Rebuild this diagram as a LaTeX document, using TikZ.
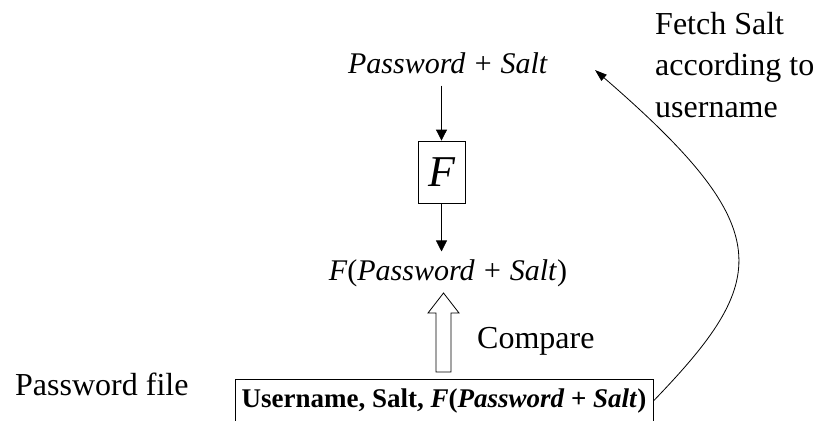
\documentclass[tikz,border=0pt]{standalone}
\usepackage{fontspec}
\setmainfont{Liberation Serif}
\usepackage{tikz}
\usetikzlibrary{arrows.meta,positioning,calc}

\begin{document}
\begin{tikzpicture}[
    x=1pt, y=-1pt,
    txt/.style={font=\fontsize{30}{41.5}\selectfont, inner sep=0pt},
    lbl/.style={font=\fontsize{32}{41.5}\selectfont, inner sep=0pt},
    hashbox/.style={draw, line width=0.8pt, minimum width=47pt, minimum height=62pt, inner sep=0pt, font=\fontsize{44}{50}\selectfont\itshape},
    filebox/.style={draw, line width=0.8pt, minimum width=418pt, text height=18pt, text depth=6pt, inner xsep=0pt, inner ysep=10pt, font=\fontsize{27}{30}\selectfont\bfseries},
    flow/.style={-{Triangle[width=11pt,length=11pt]}, line width=0.8pt},
    fetch/.style={-{Triangle[width=8pt,length=12pt]}, line width=0.8pt}
]
    \useasboundingbox (0,0) rectangle (818,420);

    % Hash chain
    \node[txt, anchor=base] (pwd) at (448,73) {\textit{Password + Salt}};
    \node[hashbox] (fbox) at (441.5,172) {F};
    \node[txt, anchor=base] (hashed) at (448,280) {\textit{F}(\textit{Password + Salt})};
    \draw[flow, shorten <=12pt] (pwd.south -| fbox.north) -- (fbox.north);
    \draw[flow, shorten >=7.5pt] (fbox.south) -- (hashed.north -| fbox.south);

    % Stored record
    \node[filebox, anchor=base] (file) at (444,407) {Username, Salt, \textit{F}(\textit{Password + Salt})};
    \node[lbl, anchor=base west] (filelbl) at (15,395) {Password file};

    % Compare (hollow arrow)
    \coordinate (cmptip) at (443.5,293);
    \draw[line width=0.8pt] (cmptip) -- ++(15.5,20) -- ++(-8,0) -- ++(0,59) -- ++(-15,0) -- ++(0,-59) -- ++(-8,0) -- cycle;
    \node[lbl, anchor=base west] (cmp) at (477,348) {Compare};

    % Fetch salt
    \coordinate (fetchtip) at (595,70);
    \draw[fetch] (file.east) .. controls (770,280) and (780,230) .. (fetchtip);
    \node[lbl, anchor=north west, align=left] (fetchlbl) at (655,12) {Fetch Salt\\according to\\username};
\end{tikzpicture}
\end{document}
